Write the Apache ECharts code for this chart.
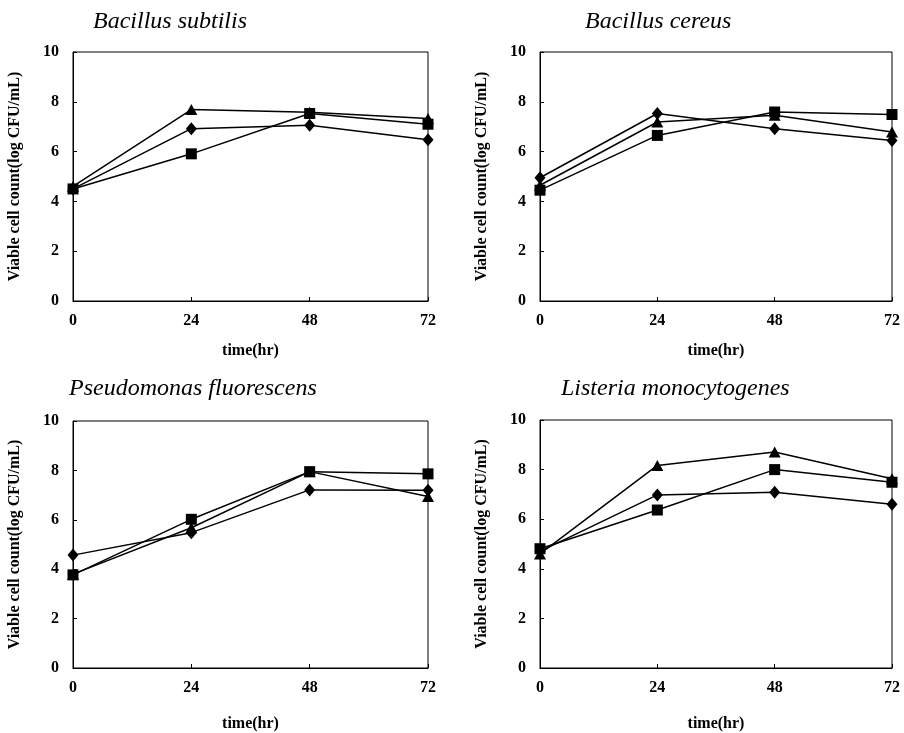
<!DOCTYPE html>
<html>
<head>
<meta charset="utf-8">
<script src="https://cdn.jsdelivr.net/npm/echarts@6/dist/echarts.min.js"></script>
<style>
  html, body { margin: 0; padding: 0; background: #fff; }
  #chart { width: 904px; height: 733px; }
</style>
</head>
<body>
<div id="chart"></div>
<script>
// sampling times (hr)
const times = [0, 24, 48, 72];
const xTicks = [0, 24, 48, 72];
const yTicks = [0, 2, 4, 6, 8, 10];

const panelTitles = ['Bacillus subtilis', 'Bacillus cereus', 'Pseudomonas fluorescens', 'Listeria monocytogenes'];

// log CFU/mL, one array per marker per panel
const subtilisDiamond = [4.5, 6.92, 7.06, 6.48];
const subtilisTriangle = [4.6, 7.69, 7.58, 7.33];
const subtilisSquare = [4.5, 5.91, 7.53, 7.10];

const cereusDiamond = [4.95, 7.53, 6.92, 6.45];
const cereusTriangle = [4.65, 7.19, 7.46, 6.79];
const cereusSquare = [4.45, 6.65, 7.59, 7.49];

const pseudoDiamond = [4.57, 5.48, 7.21, 7.2];
const pseudoTriangle = [3.8, 5.68, 7.95, 6.94];
const pseudoSquare = [3.77, 6.02, 7.95, 7.86];

const listeriaDiamond = [4.7, 6.98, 7.09, 6.6];
const listeriaTriangle = [4.6, 8.17, 8.71, 7.63];
const listeriaSquare = [4.81, 6.37, 8.0, 7.49];

const panelData = [
  [subtilisDiamond, subtilisTriangle, subtilisSquare],
  [cereusDiamond, cereusTriangle, cereusSquare],
  [pseudoDiamond, pseudoTriangle, pseudoSquare],
  [listeriaDiamond, listeriaTriangle, listeriaSquare]
];

const serif = '"Liberation Serif", "DejaVu Serif", serif';

const grids = [
  { left: 73, top: 52, width: 355, height: 249 },
  { left: 540, top: 52, width: 352, height: 249 },
  { left: 73, top: 421, width: 355, height: 250 },
  { left: 540, top: 420, width: 352, height: 250 }
];
const titlePos = [
  { left: 88, top: 5 },
  { left: 580, top: 5 },
  { left: 64, top: 372 },
  { left: 556, top: 372 }
];
const xNameGap = [42, 42, 48, 48];

const markers = [
  { symbol: 'diamond', size: [11, 13] },
  { symbol: 'triangle', size: [12, 11] },
  { symbol: 'rect', size: 11 }
];

const labelStyle = { color: '#000', fontFamily: serif, fontWeight: 'bold', fontSize: 16 };

const option = {
  backgroundColor: '#fff',
  animation: false,
  title: panelTitles.map((t, i) => ({
    text: t,
    left: titlePos[i].left,
    top: titlePos[i].top,
    textStyle: { fontFamily: serif, fontStyle: 'italic', fontWeight: 'normal', fontSize: 24, color: '#000' }
  })),
  grid: grids.map(g => Object.assign({ show: true, borderColor: '#000', borderWidth: 1, backgroundColor: 'transparent' }, g)),
  xAxis: grids.map((g, i) => ({
    gridIndex: i,
    type: 'value',
    min: xTicks[0],
    max: xTicks[xTicks.length - 1],
    interval: 24,
    name: 'time(hr)',
    nameLocation: 'middle',
    nameGap: xNameGap[i],
    nameTextStyle: labelStyle,
    axisLine: { lineStyle: { color: '#000', width: 1 } },
    axisTick: { inside: true, length: 4, lineStyle: { color: '#000' } },
    axisLabel: Object.assign({ margin: 12 }, labelStyle),
    splitLine: { show: false }
  })),
  yAxis: grids.map((g, i) => ({
    gridIndex: i,
    type: 'value',
    min: yTicks[0],
    max: yTicks[yTicks.length - 1],
    interval: 2,
    name: 'Viable cell count(log CFU/mL)',
    nameLocation: 'middle',
    nameGap: 50,
    nameTextStyle: labelStyle,
    axisLine: { show: true, lineStyle: { color: '#000', width: 1 } },
    axisTick: { show: true, inside: true, length: 4, lineStyle: { color: '#000' } },
    axisLabel: Object.assign({ margin: 14 }, labelStyle),
    splitLine: { show: false }
  })),
  series: []
};

panelData.forEach((sets, i) => {
  sets.forEach((vals, k) => {
    option.series.push({
      type: 'line',
      xAxisIndex: i,
      yAxisIndex: i,
      data: times.map((t, j) => [t, vals[j]]),
      symbol: markers[k].symbol,
      symbolSize: markers[k].size,
      showAllSymbol: true,
      itemStyle: { color: '#000' },
      lineStyle: { color: '#000', width: 1.5 },
      z: 3 + k
    });
  });
});

const chart = echarts.init(document.getElementById('chart'));
chart.setOption(option);
</script>
</body>
</html>
